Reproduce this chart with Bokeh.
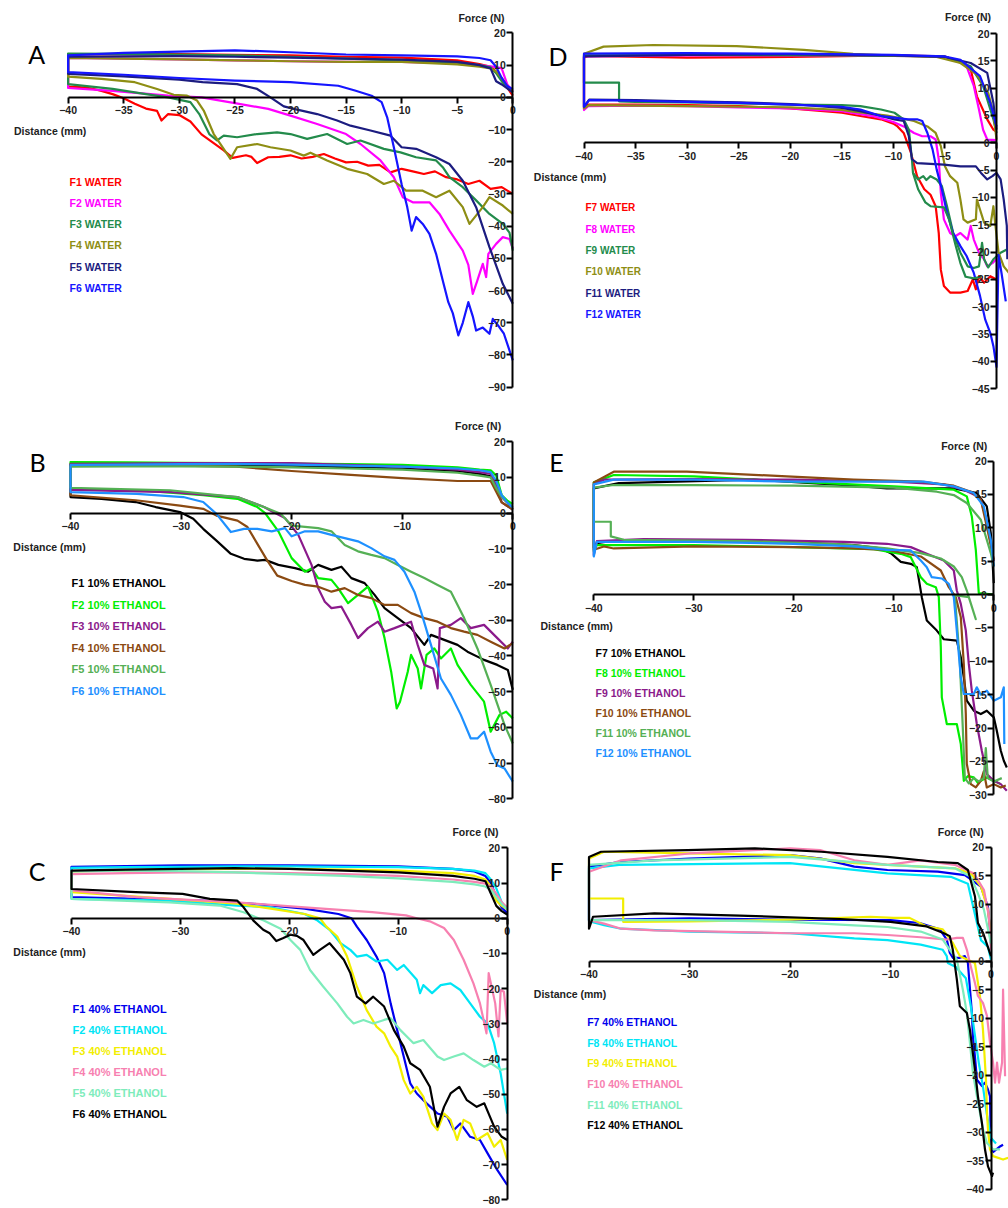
from bokeh.plotting import figure
from bokeh.models import LinearAxis, Label, FixedTicker, Range1d
from bokeh.layouts import column, row
from bokeh.embed import file_html
from bokeh.resources import INLINE

# ------------------------------------------------------------------ data
TOP_X = [-40, -35, -30, -25, -20, -15, -10, -5, -3, -2, -1.5, -1, -0.5, 0]

# ---- Panel A : water F1-F6
A_NAMES = ["F1 WATER", "F2 WATER", "F3 WATER", "F4 WATER", "F5 WATER", "F6 WATER"]
A_F1_TOP = [13.3, 13.4, 13.4, 13.2, 13.0, 12.6, 12.3, 11.5, 10.3, 9.5, 8.0, 5.5, 3.0, 0.5]
A_F2_TOP = [12.2, 12.0, 11.8, 11.5, 11.2, 11.0, 11.0, 10.5, 10.0, 9.6, 9.4, 9.0, 4.0, 2.0]
A_F3_TOP = [13.6, 13.5, 13.3, 13.0, 12.6, 12.0, 11.5, 10.8, 10.0, 9.3, 7.5, 5.0, 3.0, 1.5]
A_F4_TOP = [12.2, 12.0, 11.8, 11.5, 11.2, 11.0, 11.0, 10.2, 9.5, 9.0, 8.0, 6.0, 3.5, 2.0]
A_F5_TOP = [12.6, 12.7, 12.8, 12.6, 12.3, 12.0, 11.7, 11.0, 10.0, 9.0, 5.0, 4.0, 2.8, 1.5]
A_F6_TOP = [13.0, 13.8, 14.2, 14.6, 14.0, 13.3, 13.0, 12.7, 12.2, 11.5, 9.5, 6.0, 3.5, 2.5]
A_F1_BOT = [(-40, 3.3), (-39, 3.2), (-38, 2.8), (-37, 2.0), (-36, 1.0), (-35, -0.3), (-34, -2.0), (-33, -3.5),
            (-32, -4.2), (-31.6, -7.2), (-31, -5.2), (-30, -5.5), (-29, -7.5), (-28, -11.5), (-27, -14.0),
            (-26, -16.5), (-25.2, -18.8), (-24, -18.0), (-23.5, -18.5), (-23, -20.4), (-22, -18.6), (-21, -18.5),
            (-20, -18.0), (-19, -19.0), (-18, -18.5), (-17, -17.6), (-16, -19.0), (-15, -20.2), (-14, -20.0),
            (-13, -21.2), (-12, -21.0), (-11, -23.3), (-10, -22.2), (-9, -23.0), (-8, -23.8), (-7, -23.0),
            (-6, -24.8), (-5, -25.5), (-4, -26.9), (-3, -25.9), (-2, -28.4), (-1, -27.9), (0, -30.0)]
A_F2_BOT = [(-40, 2.9), (-36, 2.0), (-31, 0.5), (-28, 0.0), (-25, -1.8), (-22, -3.6), (-20, -5.7), (-17.6, -8.3),
            (-15, -11.4), (-13.7, -14.5), (-11.9, -19.6), (-10.7, -24.8), (-9.9, -31.0), (-9, -32.6), (-7.5, -32.6),
            (-6.6, -36.2), (-5.7, -41.4), (-4.5, -47.6), (-4, -52.0), (-3.6, -61.0), (-3.2, -57.0), (-2.7, -51.7),
            (-2.4, -55.8), (-2.2, -48.6), (-1.5, -45.5), (-0.9, -43.4), (-0.3, -44.0), (0, -47.0)]
A_F3_BOT = [(-40, 4.1), (-36, 2.6), (-33, 1.0), (-31, 0.0), (-29, -1.5), (-28.2, -5.2), (-27.3, -11.4),
            (-26.6, -13.4), (-26, -11.9), (-24.8, -12.4), (-23, -11.4), (-21.2, -10.9), (-20, -11.4),
            (-18.5, -12.9), (-16.7, -11.4), (-14.9, -14.5), (-13.7, -13.4), (-11.6, -16.0), (-10.1, -17.1),
            (-8.7, -18.6), (-6.9, -19.6), (-6.3, -21.7), (-5.7, -24.8), (-4.5, -27.9), (-3.3, -32.0),
            (-2.1, -36.2), (-0.9, -39.3), (-0.3, -42.0), (0, -47.6)]
A_F4_BOT = [(-40, 6.4), (-37, 5.7), (-34, 4.7), (-32, 2.6), (-30.5, 0.8), (-29.3, 0.5), (-28.4, -1.0),
            (-27.8, -4.1), (-26.9, -11.4), (-25.4, -19.1), (-24.8, -15.5), (-23, -14.5), (-21.8, -15.5),
            (-20, -16.5), (-18.8, -18.1), (-18.2, -17.2), (-16.7, -19.6), (-14.9, -22.2), (-13.1, -23.8),
            (-11.6, -26.9), (-10.7, -25.9), (-9.6, -29.0), (-8.1, -29.0), (-6.9, -31.0), (-5.7, -29.0),
            (-4.5, -34.1), (-3.9, -39.3), (-2.7, -34.1), (-2.1, -31.0), (-0.9, -33.6), (0, -36.2)]
A_F5_BOT = [(-40, 7.3), (-35, 6.5), (-30, 5.5), (-27.9, 4.7), (-24.8, 4.1), (-23, 2.6), (-21.8, 0.0),
            (-20.6, -2.8), (-19.7, -3.6), (-17.6, -5.2), (-15.8, -7.2), (-14.6, -8.8), (-12.8, -10.3),
            (-11, -11.9), (-10, -15.5), (-8.7, -16.0), (-6.9, -18.6), (-5.7, -20.7), (-4.5, -25.9),
            (-3.3, -34.1), (-2.1, -46.5), (-0.9, -57.9), (0, -64.1)]
A_F6_BOT = [(-40, 7.8), (-35, 7.0), (-30, 6.0), (-25, 5.2), (-20, 4.7), (-15.7, 3.6), (-14.2, 2.1), (-12.7, 0.5),
            (-11.8, -1.5), (-11.3, -6.2), (-10.7, -15.5), (-10, -27.0), (-9.5, -34.0), (-9.1, -41.4),
            (-8.7, -37.2), (-8.1, -39.3), (-7.5, -42.4), (-6.9, -48.6), (-6.3, -56.9), (-5.8, -63.6),
            (-5.4, -67.0), (-4.9, -73.9), (-4.5, -70.0), (-4, -63.6), (-3.6, -68.0), (-3.3, -72.4),
            (-2.7, -71.5), (-2.1, -73.4), (-1.8, -68.8), (-1.2, -71.4), (-0.8, -73.4), (0, -81.7)]

# ---- Panel B : 10% ethanol F1-F6
B_NAMES = ["F1 10% ETHANOL", "F2 10% ETHANOL", "F3 10% ETHANOL", "F4 10% ETHANOL", "F5 10% ETHANOL", "F6 10% ETHANOL"]
B_F1_TOP = [13.5, 13.6, 13.6, 13.5, 13.3, 12.9, 12.5, 11.8, 11.0, 10.3, 7.0, 4.5, 3.0, 1.0]
B_F2_TOP = [14.3, 14.2, 14.1, 14.0, 13.9, 13.7, 13.5, 12.8, 12.2, 12.0, 10.5, 5.0, 3.5, 2.5]
B_F3_TOP = [13.8, 13.9, 14.0, 14.0, 14.0, 13.5, 13.0, 12.2, 11.5, 11.0, 8.0, 3.0, 2.0, 1.0]
B_F4_TOP = [13.6, 13.5, 13.3, 13.0, 11.8, 10.8, 9.8, 9.0, 9.0, 9.0, 6.0, 3.0, 2.0, 1.0]
B_F5_TOP = [13.0, 13.1, 13.1, 13.0, 12.8, 12.5, 12.2, 11.3, 10.5, 10.0, 7.0, 4.5, 3.0, 1.5]
B_F6_TOP = [13.5, 13.6, 13.7, 13.8, 13.6, 13.3, 13.0, 12.5, 12.0, 11.5, 9.0, 5.0, 3.0, 1.5]
B_F1_BOT = [(-40, 4.5), (-37.2, 4.0), (-34.1, 3.1), (-32.3, 1.7), (-30.1, 0.3), (-28.9, -1.6), (-28, -4.4),
            (-26.8, -7.7), (-25.5, -11.4), (-24.3, -12.8), (-23.1, -13.3), (-22.4, -13.1), (-21.2, -14.5),
            (-19.7, -15.4), (-18.5, -16.4), (-17.6, -14.5), (-16.4, -15.9), (-15.5, -15.0), (-14.6, -18.2),
            (-13.4, -19.6), (-12.5, -22.9), (-11.6, -26.6), (-10.4, -29.4), (-9.2, -32.2), (-8, -36.9),
            (-7.4, -34.1), (-6.2, -35.5), (-5, -36.9), (-4.1, -38.8), (-2.6, -41.1), (-1.4, -42.5),
            (-0.45, -43.9), (0, -49.5)]
B_F2_BOT = [(-40, 6.8), (-34, 6.4), (-28, 5.0), (-24.9, 4.0), (-23.1, 1.7), (-22.4, 0.0), (-21.2, -5.1),
            (-20, -12.6), (-18.8, -16.4), (-18.2, -15.5), (-17.6, -18.2), (-16.4, -18.7), (-15.8, -21.0),
            (-14.9, -25.2), (-14, -22.9), (-13.1, -20.6), (-12.2, -27.6), (-11.6, -35.0), (-11, -44.4),
            (-10.5, -54.7), (-10.2, -52.8), (-9.5, -44.4), (-9.2, -39.7), (-8.6, -43.5), (-8.3, -49.1),
            (-7.8, -39.7), (-7.1, -37.9), (-6.5, -40.7), (-5.6, -37.9), (-5, -42.5), (-3.8, -48.1),
            (-2.6, -52.8), (-2, -61.2), (-1.2, -56.5), (-0.6, -55.6), (0, -57.5)]
B_F3_BOT = [(-40, 6.5), (-30.9, 5.9), (-24.9, 4.5), (-22.5, 1.7), (-21.8, 0.5), (-20.6, -1.4), (-19.4, -6.1),
            (-18.2, -14.5), (-17.6, -21.0), (-17, -24.8), (-16.4, -26.6), (-15.5, -26.2), (-14.6, -31.3),
            (-14, -35.0), (-13.1, -32.2), (-12.2, -30.4), (-11.6, -33.2), (-10.7, -32.2), (-9.2, -30.4),
            (-8.6, -36.9), (-8, -42.5), (-7.2, -43.5), (-6.8, -49.1), (-6.6, -32.2), (-5.6, -31.3),
            (-4.7, -29.4), (-3.8, -32.2), (-2.6, -31.3), (-1.4, -35.0), (-0.45, -37.9), (0, -36.0)]
B_F4_BOT = [(-40, 5.0), (-34.1, 3.6), (-30.1, 2.1), (-28, 1.2), (-26.8, -0.7), (-24.9, -2.1), (-24, -3.9),
            (-23.1, -8.6), (-22.2, -13.3), (-21.3, -17.5), (-20, -19.0), (-18.8, -20.1), (-17.6, -20.6),
            (-16.4, -22.0), (-15.2, -21.0), (-14, -22.9), (-12.8, -23.8), (-11.6, -25.7), (-10.4, -25.7),
            (-9.2, -28.0), (-8, -29.4), (-6.8, -30.4), (-5.6, -32.2), (-4.4, -33.2), (-3.2, -34.1),
            (-2, -36.0), (-0.75, -37.9), (0, -36.4)]
B_F5_BOT = [(-40, 7.1), (-31, 6.4), (-24.9, 4.5), (-22.5, 1.7), (-21, -0.2), (-20, -3.5), (-17.6, -4.2),
            (-16.4, -5.1), (-15.2, -8.9), (-14, -10.7), (-12.8, -11.7), (-11.6, -12.6), (-10.4, -14.5),
            (-9.2, -16.4), (-8, -18.2), (-6.8, -20.1), (-5.6, -22.0), (-4.4, -29.4), (-3.2, -37.9),
            (-2, -48.1), (-0.75, -59.3), (0, -64.5)]
B_F6_BOT = [(-40, 5.9), (-34, 5.4), (-29.8, 4.5), (-28, 3.1), (-26.8, -0.2), (-25.5, -5.3), (-24.3, -4.4),
            (-23.1, -4.4), (-21.8, -5.1), (-20.6, -4.2), (-20, -6.5), (-18.8, -5.1), (-17.6, -5.1),
            (-16.4, -6.1), (-15.2, -7.0), (-14, -7.9), (-12.8, -9.8), (-11.6, -12.1), (-10.7, -13.1),
            (-9.8, -16.4), (-8.9, -22.0), (-8.3, -27.6), (-7.4, -36.9), (-6.5, -46.3), (-5.6, -50.9),
            (-4.7, -56.5), (-3.8, -63.1), (-3.2, -63.1), (-2.6, -61.2), (-2, -66.8), (-1.4, -70.6),
            (-0.75, -71.5), (0, -75.2)]

# ---- Panel C : 40% ethanol F1-F6
C_NAMES = ["F1 40% ETHANOL", "F2 40% ETHANOL", "F3 40% ETHANOL", "F4 40% ETHANOL", "F5 40% ETHANOL", "F6 40% ETHANOL"]
C_F1_TOP = [14.6, 14.8, 15.0, 15.0, 15.0, 14.9, 14.7, 14.0, 13.3, 12.0, 10.0, 6.0, 3.0, 1.5]
C_F2_TOP = [14.3, 14.5, 14.6, 14.7, 14.7, 14.6, 14.5, 14.0, 13.5, 12.8, 11.0, 8.5, 4.5, 2.5]
C_F3_TOP = [13.3, 13.6, 13.9, 14.0, 14.0, 13.8, 13.5, 12.8, 12.0, 11.0, 9.0, 5.0, 3.5, 2.5]
C_F4_TOP = [12.5, 12.8, 13.0, 13.0, 12.8, 12.5, 12.0, 11.0, 10.3, 9.8, 9.0, 7.0, 4.5, 3.0]
C_F5_TOP = [13.3, 13.5, 13.4, 13.0, 12.5, 12.0, 11.3, 10.3, 9.6, 9.0, 8.0, 6.0, 4.0, 2.5]
C_F6_TOP = [13.5, 13.8, 14.0, 14.2, 14.0, 13.5, 13.0, 12.0, 11.2, 10.5, 7.0, 3.5, 2.0, 1.0]
C_F1_BOT = [(-40, 6.0), (-34, 5.5), (-27.9, 5.0), (-23.3, 4.1), (-18.6, 2.7), (-15.5, 1.2), (-14.3, 0.0),
            (-13.8, -2.4), (-12.9, -6.2), (-12, -10.9), (-11.3, -15.6), (-10.7, -24.2), (-10.1, -31.8),
            (-9.5, -39.3), (-8.9, -46.9), (-8.3, -49.8), (-7.4, -52.6), (-6.4, -55.5), (-5.5, -56.4),
            (-4.9, -60.2), (-4.3, -58.3), (-3.4, -62.1), (-2.5, -63.0), (-1.8, -66.8), (-0.9, -71.6), (0, -75.8)]
C_F2_BOT = [(-40, 5.5), (-31, 5.0), (-24.8, 3.6), (-21.7, 3.1), (-18.6, 1.2), (-17.5, -0.5), (-16.3, -3.3),
            (-15.3, -7.1), (-14.4, -9.0), (-13.8, -10.9), (-12.9, -10.4), (-12, -12.3), (-11, -11.8),
            (-10.1, -14.7), (-9.5, -13.3), (-8.3, -17.5), (-8, -21.3), (-7.7, -19.0), (-6.9, -21.3),
            (-6.1, -19.0), (-5.2, -18.5), (-4.3, -20.4), (-3.4, -24.2), (-2.5, -28.0), (-1.8, -29.9),
            (-1.2, -35.5), (-0.6, -44.1), (0, -55.5)]
C_F3_BOT = [(-40, 7.4), (-31, 5.5), (-24.8, 4.1), (-21.7, 2.7), (-18.6, 1.2), (-17.2, 0.0), (-16.6, -2.4),
            (-15.6, -5.2), (-14.7, -10.9), (-13.8, -19.4), (-12.9, -26.1), (-12, -30.8), (-11.3, -32.7),
            (-10.7, -36.5), (-10.1, -39.3), (-9.5, -46.0), (-8.9, -49.8), (-8.3, -47.9), (-7.7, -50.7),
            (-6.9, -58.3), (-6.4, -60.2), (-5.8, -55.5), (-5.2, -57.3), (-4.6, -63.0), (-4, -57.3),
            (-3.4, -58.3), (-2.8, -63.0), (-1.8, -61.1), (-1.2, -64.9), (-0.6, -63.0), (0, -68.7)]
C_F4_BOT = [(-40, 7.9), (-34, 6.0), (-24.8, 4.5), (-18.6, 3.1), (-12.4, 1.7), (-9.3, 0.8), (-8.3, 0.0),
            (-7.1, -0.9), (-5.8, -2.8), (-4.9, -6.2), (-4, -11.8), (-3.1, -18.5), (-2.5, -24.2),
            (-1.9, -32.7), (-1.7, -15.6), (-1.1, -24.2), (-0.8, -33.6), (-0.6, -20.4), (-0.3, -20.9), (0, -29.9)]
C_F5_BOT = [(-40, 5.5), (-31, 4.5), (-26.4, 3.6), (-24.2, 1.7), (-22.3, -0.7), (-20.8, -3.0), (-19.9, -6.2),
            (-19, -9.0), (-18.1, -14.7), (-16.9, -19.4), (-15.6, -24.2), (-14.7, -28.0), (-14.1, -29.9),
            (-13.2, -28.9), (-12.3, -29.9), (-11.3, -28.9), (-10.7, -28.4), (-9.8, -31.8), (-8.6, -35.5),
            (-7.7, -34.6), (-6.4, -39.3), (-5.8, -40.3), (-4.9, -39.3), (-4, -38.4), (-3.1, -40.3),
            (-2.1, -42.2), (-1.5, -41.2), (-0.6, -43.1), (0, -42.7)]
C_F6_BOT = [(-40, 8.3), (-34.1, 7.4), (-29.8, 6.9), (-27.3, 5.5), (-24.8, 5.0), (-24.2, 3.1), (-23.3, -0.7),
            (-22.4, -3.3), (-21.8, -4.3), (-21.2, -6.5), (-20.6, -5.7), (-19.9, -4.7), (-19.3, -5.0),
            (-18.7, -6.2), (-17.8, -10.4), (-17.2, -9.0), (-16.3, -7.1), (-15, -11.8), (-14.4, -15.6),
            (-13.8, -22.3), (-13, -24.2), (-12.3, -22.3), (-11.3, -25.1), (-10.4, -31.8), (-9.5, -36.5),
            (-8.9, -41.2), (-8, -43.1), (-7.1, -47.9), (-6.4, -59.2), (-5.8, -53.6), (-5.2, -49.8),
            (-4.4, -47.9), (-3.7, -51.7), (-2.8, -53.6), (-2.1, -52.6), (-1.2, -59.2), (-0.5, -62.1), (0, -63.0)]

# ---- Panel D : water F7-F12
D_NAMES = ["F7 WATER", "F8 WATER", "F9 WATER", "F10 WATER", "F11 WATER", "F12 WATER"]
D_F7_TOP = [(-40, 15.6), (-39.6, 15.9), (-30, 15.6), (-20, 15.7), (-10, 16.0), (-5, 15.8), (-3, 14.3),
            (-2.5, 13.4), (-1.9, 8.5), (-0.9, 4.3), (-0.3, 2.4), (0, 2.0)]
D_F8_TOP = [(-40, 15.8), (-30, 16.0), (-15, 16.0), (-5, 15.8), (-3, 14.5), (-2.2, 10.4), (-1.7, 6.1),
            (-1.3, 2.4), (-0.9, 0.6), (0, 0.5)]
D_F9_TOP = [(-40, 16.0), (-30, 16.1), (-15, 16.0), (-5, 15.8), (-2.5, 14.0), (-1.3, 10.4), (-0.3, 4.3), (0, 1.8)]
D_F10_TOP = [(-40, 16.3), (-38.1, 17.6), (-33.3, 17.9), (-25.2, 17.7), (-18.7, 17.0), (-13.9, 16.3),
             (-10.6, 16.0), (-5.8, 15.7), (-3.5, 14.6), (-1.9, 12.5), (-0.8, 9.1), (-0.3, 5.5), (0, 0.6)]
D_F11_TOP = [(-40, 15.8), (-30, 16.1), (-20, 16.2), (-10, 16.0), (-5, 15.7), (-2.5, 14.6), (-0.9, 12.8),
             (-0.3, 7.3), (0, 2.4)]
D_F12_TOP = [(-40, 16.3), (-30, 16.4), (-20, 16.3), (-10, 16.1), (-5, 15.8), (-3.5, 15.2), (-1.6, 12.2),
             (-0.6, 7.3), (0, 3.0)]
D_F7_BOT = [(-40, 6.3), (-39.6, 7.0), (-35, 7.0), (-30, 6.9), (-25, 6.7), (-20, 6.3), (-15, 5.5), (-13.2, 4.9),
            (-11.2, 4.3), (-10, 3.5), (-9.6, 3.0), (-9, 1.8), (-8.3, -1.8), (-7.7, -6.1), (-7, -8.5),
            (-6.4, -9.5), (-5.9, -11.6), (-5.6, -16.5), (-5.4, -23.2), (-5.1, -26.2), (-4.5, -27.4),
            (-3.5, -27.4), (-2.8, -27.1), (-2.3, -25.0), (-2, -26.8), (-1.7, -24.4), (-1.2, -25.6),
            (-0.6, -24.4), (0, -25.0)]
D_F8_BOT = [(-40, 6.0), (-39.6, 6.7), (-35, 6.8), (-30, 6.7), (-25, 6.5), (-20, 6.3), (-15, 5.8), (-12, 4.9),
            (-10, 3.8), (-9, 3.0), (-8, 1.8), (-7.2, 1.2), (-6.4, 1.2), (-5.9, 0.6), (-5.6, -3.0), (-5.4, -9.1),
            (-5.1, -14.0), (-4.5, -16.5), (-4, -17.1), (-3.5, -16.5), (-2.8, -17.7), (-2.5, -15.2),
            (-2.2, -17.7), (-1.7, -20.1), (-1.2, -21.3), (-0.9, -22.6), (-0.4, -22.0), (0, -21.3)]
D_F9_BOT = [(-40, 11.0), (-36.6, 11.0), (-36.6, 7.6), (-35, 7.5), (-30, 7.4), (-25, 7.2), (-20, 7.0), (-15, 6.9),
            (-13.2, 6.7), (-11.2, 6.1), (-9.9, 5.5), (-9, 4.3), (-8.5, 2.4), (-8.2, -3.0), (-8.1, -5.5),
            (-7.6, -6.7), (-7.1, -6.1), (-6.8, -6.8), (-6.4, -6.1), (-5.8, -6.7), (-5.3, -7.9), (-4.8, -11.6),
            (-4.2, -16.5), (-3.5, -20.1), (-2.8, -22.6), (-2.2, -22.9), (-1.7, -22.6), (-1.4, -18.3),
            (-1.2, -21.3), (-0.8, -22.8), (-0.3, -21.3), (0.4, -20.1), (1.0, -19.5)]
D_F9_BRANCH = [(-8.1, -5.5), (-7.6, -8.5), (-6.9, -10.9), (-6.4, -11.6), (-5.1, -11.8), (-4.6, -14.0),
               (-4.0, -18.5), (-3.5, -22.0), (-3.0, -24.5), (-2.2, -24.8), (-1.5, -24.5)]
D_F10_BOT = [(-40, 6.3), (-39.5, 6.9), (-30, 6.7), (-20, 6.5), (-15, 6.0), (-13.9, 5.7), (-10.6, 5.0),
             (-8, 4.0), (-6.7, 3.0), (-5.9, 1.8), (-5.4, -0.6), (-5, -4.3), (-4.5, -6.1), (-3.8, -7.3),
             (-3.5, -10.4), (-3.2, -14.0), (-2.8, -14.6), (-2, -14.0), (-1.9, -10.4), (-1.7, -11.6),
             (-1.2, -14.6), (-0.6, -15.2), (-0.3, -11.6), (-0.1, -15.2), (0.2, -20.1), (0.7, -22.6), (1.2, -23.8)]
D_F11_BOT = [(-40, 6.6), (-39.5, 7.9), (-35, 7.8), (-30, 7.6), (-25, 7.4), (-20, 7.1), (-15, 6.4), (-13.2, 5.8),
             (-11.2, 4.9), (-9.9, 4.3), (-9, 4.0), (-8.5, 1.2), (-8.2, -3.0), (-7.7, -3.7), (-5.1, -4.0),
             (-3.5, -4.3), (-2, -4.3), (-1.5, -5.5), (-0.9, -6.7), (-0.4, -6.1), (0, -5.5), (0.4, -6.7),
             (0.7, -10.4), (1.0, -15.2), (1.05, -21.3)]
D_F12_BOT = [(-40, 6.6), (-39.5, 7.8), (-35, 7.7), (-30, 7.5), (-25, 7.3), (-20, 7.0), (-15, 6.6), (-13.2, 6.1),
             (-11.2, 4.9), (-9.9, 4.6), (-8.6, 4.3), (-7.7, 4.3), (-7.2, 4.0), (-6.7, 1.8), (-6.2, -1.2),
             (-5.8, -4.9), (-5.3, -8.5), (-4.8, -12.8), (-4.2, -16.5), (-3.5, -18.9), (-2.9, -20.7),
             (-2.2, -23.8), (-1.6, -28.0), (-1.1, -32.3), (-0.6, -34.8), (-0.3, -37.2), (0, -41.0), (0.1, -30.0),
             (0.2, -20.5), (0.5, -24.0), (0.9, -29.0)]

# ---- Panel E : 10% ethanol F7-F12
E_NAMES = ["F7 10% ETHANOL", "F8 10% ETHANOL", "F9 10% ETHANOL", "F10 10% ETHANOL", "F11 10% ETHANOL", "F12 10% ETHANOL"]
E_F7_TOP = [(-40, 15.9), (-37.5, 16.7), (-24, 17.2), (-14, 16.3), (-10.7, 15.9), (-4, 15.9), (-1.7, 15.2),
            (-0.7, 13.2), (-0.3, 9.2), (0, 1.7)]
E_F8_TOP = [(-40, 16.8), (-38, 17.9), (-30, 17.7), (-20, 16.9), (-10, 16.2), (-4, 15.7), (-2.7, 14.7),
            (-2.2, 11.7), (-1.8, 6.7), (-1.5, 0.2), (0, 0.0)]
E_F9_TOP = [(-40, 16.5), (-39, 17.2), (-30, 17.3), (-20, 17.2), (-10, 16.9), (-5, 16.5), (-3, 15.7),
            (-2, 15.0), (-1.3, 14.2), (-0.7, 11.0), (0, 5.0)]
E_F10_TOP = [(-40, 16.8), (-38, 18.4), (-30.7, 18.4), (-20.7, 17.7), (-14, 17.2), (-7.3, 16.9), (-4, 16.3),
             (-2.3, 15.4), (-1.3, 14.2), (-0.7, 10.2), (0, 5.2)]
E_F11_TOP = [(-40, 16.0), (-38, 16.4), (-30, 16.4), (-20, 16.3), (-10, 16.0), (-5.7, 15.4), (-4, 14.9),
             (-2.7, 13.7), (-1.3, 11.2), (-0.3, 6.2), (0, 4.2)]
E_F12_TOP = [(-40, 16.5), (-38, 17.2), (-30, 17.2), (-20, 16.9), (-7, 16.9), (-4, 16.2), (-2, 15.2),
             (-1, 13.2), (-0.3, 8.2), (0, 4.2)]
E_F7_BOT = [(-40, 7.0), (-39.7, 7.7), (-38.7, 7.9), (-34, 8.2), (-20.7, 7.9), (-14, 7.4), (-11.3, 6.9),
            (-10.3, 6.2), (-9.3, 4.9), (-8.3, 4.6), (-7.7, 4.1), (-7.2, -0.4), (-6.7, -3.9), (-5.7, -5.4),
            (-5, -6.7), (-3.7, -6.9), (-3.3, -9.4), (-3, -12.4), (-2.7, -15.9), (-2, -17.4), (-1.3, -17.9),
            (-0.7, -17.4), (0, -18.4), (0.3, -20.4), (0.7, -23.4), (1, -24.9), (1.3, -25.9)]
E_F8_BOT = [(-40, 6.5), (-39.7, 7.4), (-30, 7.4), (-20, 7.1), (-12, 6.8), (-9.3, 6.1), (-8.3, 5.6), (-7.3, 2.6),
            (-6.7, 1.6), (-5.8, 1.1), (-5.5, -0.4), (-5.3, -7.9), (-5.2, -15.4), (-4.7, -19.4), (-3.7, -19.4),
            (-3.3, -22.4), (-3, -27.9), (-2.6, -27.2), (-2, -27.4), (-1.6, -28.2), (-1.3, -27.9), (-0.7, -27.4),
            (0, -27.9), (0.7, -28.4)]
E_F9_BOT = [(-40, 5.9), (-39.7, 8.0), (-35, 8.3), (-25, 8.2), (-15, 7.9), (-10.7, 7.6), (-8.3, 7.1), (-6.7, 6.1),
            (-5, 5.1), (-4, 3.6), (-3.7, 0.6), (-3.3, -1.4), (-2.8, -5.4), (-2.5, -10.4), (-2.2, -14.4),
            (-1.7, -19.4), (-1.2, -23.4), (-0.7, -26.9), (0, -27.9), (0.7, -28.4), (1.3, -29.4)]
E_F10_BOT = [(-40, 6.7), (-39, 7.2), (-38, 6.9), (-30, 7.2), (-20, 7.1), (-14, 6.9), (-10.7, 6.7), (-7.3, 5.7),
             (-5.3, 3.6), (-4.5, 1.1), (-3.8, -0.4), (-3.3, -3.4), (-3, -10.4), (-2.8, -17.9), (-2.7, -25.4),
             (-2.3, -28.4), (-1.8, -28.9), (-1.3, -27.9), (-1, -26.5), (-0.7, -28.9), (0, -28.4), (0.7, -28.9),
             (1.2, -28.6)]
E_F11_BOT = [(-40, 10.9), (-38.3, 10.9), (-38.3, 8.7), (-37, 8.2), (-25, 8.0), (-15, 7.5), (-10.7, 6.9),
             (-7.3, 6.2), (-5.3, 5.4), (-4, 4.2), (-3.2, 2.6), (-2.7, 0.6), (-1.8, -3.7), (-2.5, -0.4),
             (-3.9, -0.1), (-3.4, -10.0), (-3.1, -20.0), (-2.9, -27.5), (-2.5, -28.3), (-2, -27.5), (-1.5, -28.0),
             (-1, -27.5), (-0.8, -23.0), (-0.6, -27.5), (0, -28.0), (0.8, -27.5)]
E_F12_BOT = [(-40, 5.7), (-39.7, 7.9), (-30, 7.9), (-20, 7.6), (-14, 7.2), (-10.7, 6.7), (-8.3, 6.6), (-7.3, 5.1),
             (-6.7, 4.1), (-6.2, 2.6), (-5.2, 2.4), (-4.5, 1.6), (-4, -0.4), (-3.7, -5.4), (-3.3, -12.4),
             (-3, -14.9), (-2, -14.9), (-1.7, -13.9), (-1.3, -15.0), (-0.7, -14.4), (0, -15.9), (0.7, -15.4),
             (1, -13.9), (1.05, -22.4)]

# ---- Panel F : 40% ethanol F7-F12
F_NAMES = ["F7 40% ETHANOL", "F8 40% ETHANOL", "F9 40% ETHANOL", "F10 40% ETHANOL", "F11 40% ETHANOL", "F12 40% ETHANOL"]
F_F7_TOP = [(-40, 16.6), (-37, 17.4), (-30, 18.0), (-20, 18.6), (-16.9, 18.0), (-13.6, 16.6), (-10.3, 16.0),
            (-5.3, 15.7), (-2.6, 15.1), (-1, 13.1), (-0.3, 9.5), (0, 3.1)]
F_F8_TOP = [(-40, 16.3), (-37, 16.9), (-20, 17.2), (-10.3, 15.4), (-4, 14.8), (-2.3, 13.6), (-1.7, 9.0),
            (-1, 3.7), (-0.3, 2.5), (0, 0.2)]
F_F9_TOP = [(-40, 18.0), (-38.5, 19.2), (-30, 18.9), (-20, 18.6), (-13.6, 17.2), (-3.6, 16.3), (-2, 15.4),
            (-1, 13.1), (-0.3, 9.0), (0, 4.3)]
F_F10_TOP = [(-40, 15.7), (-36.8, 17.7), (-30, 18.9), (-20, 19.8), (-17, 19.5), (-13.6, 17.7), (-10.3, 16.9),
             (-7, 17.7), (-3.6, 16.9), (-1.7, 15.4), (-0.7, 12.5), (-0.2, 7.8), (0, 1.9)]
F_F11_TOP = [(-40, 16.9), (-33.5, 17.7), (-20, 18.3), (-10.3, 16.9), (-3.6, 16.3), (-2, 14.8), (-1.3, 11.9),
             (-0.7, 9.0), (0, 3.1)]
F_F12_TOP = [(-40, 18.3), (-38.8, 19.2), (-30.2, 19.5), (-23.5, 19.8), (-16.9, 19.2), (-10.3, 18.3), (-5.3, 17.4),
             (-3.3, 17.2), (-2.3, 16.0), (-1.6, 11.4), (-1.3, 6.7), (-0.8, 5.0), (0, 0.9)]
F_F7_BOT = [(-40, 7.2), (-30, 7.5), (-20, 7.3), (-10, 7.2), (-7.1, 6.7), (-5.1, 5.6), (-4.4, 3.8), (-4.1, 1.5),
            (-3.8, 0.6), (-3.1, 0.6), (-2.6, 0.9), (-2.3, -0.3), (-1.9, -9.1), (-1.8, -13.2), (-1.6, -16.7),
            (-1.4, -20.8), (-0.9, -21.9), (-0.6, -21.3), (-0.3, -22.5), (-0.1, -23.7), (0, -33.0), (0.2, -33.5),
            (0.9, -32.5), (1.2, -32.2)]
F_F8_BOT = [(-40, 7.0), (-38.5, 6.3), (-36.8, 5.7), (-30, 5.2), (-20, 4.9), (-13.6, 4.0), (-10.3, 3.7), (-7, 2.9),
            (-4.8, 2.0), (-4.4, 0.9), (-4.3, -0.3), (-3.5, -1.0), (-2.5, -3.0), (-2, -8.0), (-1.6, -13.0),
            (-1.2, -18.0), (-0.8, -22.0), (-0.4, -27.0), (0, -31.0), (0.5, -32.0)]
F_F9_BOT = [(-40, 11.0), (-36.6, 11.0), (-36.6, 6.9), (-30, 7.0), (-20, 7.3), (-12, 7.8), (-9.7, 7.6), (-8.1, 7.6),
            (-6.4, 6.1), (-4.8, 5.6), (-3.8, 3.2), (-3.1, 0.9), (-2.4, 0.3), (-1.6, -0.3), (-1.1, -6.1),
            (-0.8, -12.0), (-0.5, -20.8), (-0.4, -26.6), (-0.3, -29.5), (-0.1, -33.0), (0.2, -34.2),
            (1.2, -34.8), (1.7, -34.5)]
F_F10_BOT = [(-40, 7.2), (-38.5, 6.6), (-36.8, 5.7), (-33.5, 5.4), (-20, 4.9), (-13.6, 4.9), (-10.3, 4.6),
             (-7, 4.2), (-4.4, 3.8), (-3.4, 4.1), (-2.8, 4.1), (-2.4, 2.0), (-2.1, -0.3), (-1.6, -3.8),
             (-1.3, -6.1), (-0.8, -7.3), (-0.4, -9.6), (-0.1, -14.3), (0.2, -17.8), (0.4, -21.3), (0.6, -17.8),
             (0.8, -21.3), (1.1, -17.8), (1.2, -5.0), (1.4, -20.2)]
F_F11_BOT = [(-40, 7.2), (-30, 7.2), (-20, 6.9), (-13.6, 6.3), (-10.3, 6.0), (-7, 5.2), (-4.8, 3.8), (-4.1, 2.0),
             (-3.4, 0.3), (-2.8, -5.0), (-2.4, -9.1), (-2.1, -14.3), (-1.8, -19.6), (-1.4, -23.7), (-1.1, -26.6),
             (-0.8, -29.5), (-0.4, -31.9), (0.2, -33.0), (0.9, -33.0)]
F_F12_BOT = [(-40, 5.7), (-39.6, 7.8), (-33.5, 8.4), (-25, 8.0), (-15, 7.4), (-10, 6.9), (-6.4, 6.1), (-4.8, 5.0),
             (-4.1, 4.4), (-3.8, 2.0), (-3.4, -3.2), (-3.1, -7.9), (-2.4, -9.1), (-2.1, -12.0), (-1.6, -19.0),
             (-1.3, -23.7), (-0.9, -28.4), (-0.6, -33.0), (-0.3, -36.0), (0.1, -37.7), (0.2, -37.1)]

# ------------------------------------------------------------------ styles
COL_WATER = ["#ff0000", "#ff00ff", "#238b4b", "#8e8e14", "#1c1c80", "#1515ff"]
COL_E10 = ["#000000", "#00ee00", "#8b1a8b", "#8b4a12", "#55b055", "#1e90ff"]
COL_E40 = ["#0000ee", "#00e5f5", "#f2ee00", "#f780b0", "#7eecbb", "#000000"]

FONT = "Liberation Sans"


def grid_top(vals):
    return list(zip(TOP_X, vals))


def path(top, bot):
    pts = list(reversed(top)) + list(bot)
    return [p[0] for p in pts], [p[1] for p in pts]


def make_panel(spec, names, colors, tops, bots, extra=None):
    W, H = spec["W"], spec["H"]
    px40, px0 = spec["xpx"]
    (ytop, pytop), (ybot, pybot) = spec["ypx"]
    # the frame fills the whole canvas so that every text stays visible
    fl, fr, ft, fb = 0, W, 0, H
    sx = (px0 - px40) / 40.0
    sy = (pybot - pytop) / float(ytop - ybot)
    x_start = -40 - (px40 - fl) / sx
    x_end = (fr - px0) / sx
    y_end = ytop + (pytop - ft) / sy
    y_start = ybot - (fb - pybot) / sy

    def to_data(px, py):
        return x_start + (px - fl) / sx, y_end - (py - ft) / sy

    p = figure(width=W, height=H, x_range=Range1d(x_start, x_end), y_range=Range1d(y_start, y_end),
               output_backend="svg", toolbar_location=None, x_axis_location=None, y_axis_location=None,
               title=None, min_border_left=0, min_border_right=0, min_border_top=0, min_border_bottom=0)
    p.outline_line_color = None
    p.background_fill_color = "white"
    p.border_fill_color = "white"
    p.grid.grid_line_color = None

    for top, bot, c in zip(tops, bots, colors):
        xs, ys = path(top, bot)
        p.line(xs, ys, line_color=c, line_width=2.2, line_join="round")
    if extra is not None:
        pts, c = extra
        p.line([q[0] for q in pts], [q[1] for q in pts], line_color=c, line_width=2.2, line_join="round")

    common = dict(axis_line_width=2, axis_line_color="black", major_tick_line_width=2,
                  major_tick_line_color="black", major_tick_out=6, major_tick_in=0,
                  minor_tick_line_color=None, major_label_text_font=FONT,
                  major_label_text_font_style="bold", major_label_text_font_size="10.5px",
                  major_label_text_color="#222222")
    xa = LinearAxis(fixed_location=0, bounds=(-40, 0), ticker=FixedTicker(ticks=spec["xticks"]),
                    major_label_standoff=3, **common)
    ya = LinearAxis(fixed_location=0, bounds=(ybot, ytop), ticker=FixedTicker(ticks=spec["yticks"]),
                    major_label_standoff=1, **common)
    p.add_layout(xa, "below")
    p.add_layout(ya, "left")

    fx, fy = to_data(*spec["force"])
    p.add_layout(Label(x=fx, y=fy, text="Force (N)", text_font=FONT, text_font_style="bold",
                       text_font_size="10.5px", text_color="#222222", text_align="center",
                       text_baseline="middle"))
    dx, dy = to_data(*spec["dist"])
    p.add_layout(Label(x=dx, y=dy, text="Distance (mm)", text_font=FONT, text_font_style="bold",
                       text_font_size="10.5px", text_color="#222222", text_align="left",
                       text_baseline="middle"))
    lx, ly = to_data(*spec["letter"])
    p.add_layout(Label(x=lx, y=ly, text=spec["name"], text_font="Lato", text_font_size="25px",
                       text_color="black", text_align="center", text_baseline="alphabetic"))
    gx0, gy0 = spec["legend"]
    for i, (nm, c) in enumerate(zip(names, colors)):
        gx, gy = to_data(gx0, gy0 + i * spec["leg_dy"])
        p.add_layout(Label(x=gx, y=gy, text=nm, text_font=FONT, text_font_style="bold",
                           text_font_size=spec["leg_fs"], text_color=c, text_align="left",
                           text_baseline="middle"))
    return p


SPEC_A = dict(name="A", W=520, H=400, xpx=(67.6, 512.3), ypx=((20, 32.4), (-90, 386.7)),
              xticks=list(range(-40, 1, 5)), yticks=list(range(-90, 21, 10)), force=(481, 17), dist=(13.5, 130),
              letter=(36.3, 53), legend=(69, 181), leg_dy=21.3, leg_fs="10.5px")
SPEC_B = dict(name="B", W=520, H=410, xpx=(70.0, 512.3), ypx=((20, 41.2), (-80, 398.3)),
              xticks=list(range(-40, 1, 10)), yticks=list(range(-80, 21, 10)), force=(477.6, 25),
              dist=(12.8, 146.7), letter=(37, 61.7), legend=(71, 182.7), leg_dy=21.5, leg_fs="11px")
SPEC_C = dict(name="C", W=520, H=398, xpx=(71.0, 506.7), ypx=((20, 37.3), (-80, 389.3)),
              xticks=list(range(-40, 1, 10)), yticks=list(range(-80, 21, 10)), force=(475, 21.7),
              dist=(12.8, 141.7), letter=(36.7, 60), legend=(72, 198.3), leg_dy=21.1, leg_fs="11px")
SPEC_D = dict(name="D", W=488, H=400, xpx=(63.5, 476.0), ypx=((20, 33.0), (-45, 388.3)),
              xticks=list(range(-40, 1, 5)), yticks=list(range(-45, 21, 5)), force=(447.5, 16.7),
              dist=(13.3, 176), letter=(37.5, 55), legend=(65, 207.3), leg_dy=21.3, leg_fs="10px")
SPEC_E = dict(name="E", W=488, H=410, xpx=(73.3, 473.3), ypx=((20, 60.5), (-30, 394.3)),
              xticks=list(range(-40, 1, 10)), yticks=list(range(-30, 21, 5)), force=(443.7, 45),
              dist=(20, 225.7), letter=(36, 61.7), legend=(75, 252.7), leg_dy=20, leg_fs="10.5px")
SPEC_F = dict(name="F", W=488, H=398, xpx=(68.5, 470.5), ypx=((20, 36.7), (-40, 378.7)),
              xticks=list(range(-40, 1, 10)), yticks=list(range(-40, 21, 5)), force=(440.3, 21),
              dist=(13.3, 183.3), letter=(36, 60), legend=(66.7, 211.7), leg_dy=20.6, leg_fs="10.5px")

pA = make_panel(SPEC_A, A_NAMES, COL_WATER,
                [grid_top(v) for v in (A_F1_TOP, A_F2_TOP, A_F3_TOP, A_F4_TOP, A_F5_TOP, A_F6_TOP)],
                [A_F1_BOT, A_F2_BOT, A_F3_BOT, A_F4_BOT, A_F5_BOT, A_F6_BOT])
pB = make_panel(SPEC_B, B_NAMES, COL_E10,
                [grid_top(v) for v in (B_F1_TOP, B_F2_TOP, B_F3_TOP, B_F4_TOP, B_F5_TOP, B_F6_TOP)],
                [B_F1_BOT, B_F2_BOT, B_F3_BOT, B_F4_BOT, B_F5_BOT, B_F6_BOT])
pC = make_panel(SPEC_C, C_NAMES, COL_E40,
                [grid_top(v) for v in (C_F1_TOP, C_F2_TOP, C_F3_TOP, C_F4_TOP, C_F5_TOP, C_F6_TOP)],
                [C_F1_BOT, C_F2_BOT, C_F3_BOT, C_F4_BOT, C_F5_BOT, C_F6_BOT])
pD = make_panel(SPEC_D, D_NAMES, COL_WATER,
                [D_F7_TOP, D_F8_TOP, D_F9_TOP, D_F10_TOP, D_F11_TOP, D_F12_TOP],
                [D_F7_BOT, D_F8_BOT, D_F9_BOT, D_F10_BOT, D_F11_BOT, D_F12_BOT],
                extra=(D_F9_BRANCH, COL_WATER[2]))
pE = make_panel(SPEC_E, E_NAMES, COL_E10,
                [E_F7_TOP, E_F8_TOP, E_F9_TOP, E_F10_TOP, E_F11_TOP, E_F12_TOP],
                [E_F7_BOT, E_F8_BOT, E_F9_BOT, E_F10_BOT, E_F11_BOT, E_F12_BOT])
pF = make_panel(SPEC_F, F_NAMES, COL_E40,
                [F_F7_TOP, F_F8_TOP, F_F9_TOP, F_F10_TOP, F_F11_TOP, F_F12_TOP],
                [F_F7_BOT, F_F8_BOT, F_F9_BOT, F_F10_BOT, F_F11_BOT, F_F12_BOT])

layout = column(row(pA, pD), row(pB, pE), row(pC, pF))
open("out.html", "w").write(file_html(layout, INLINE))
